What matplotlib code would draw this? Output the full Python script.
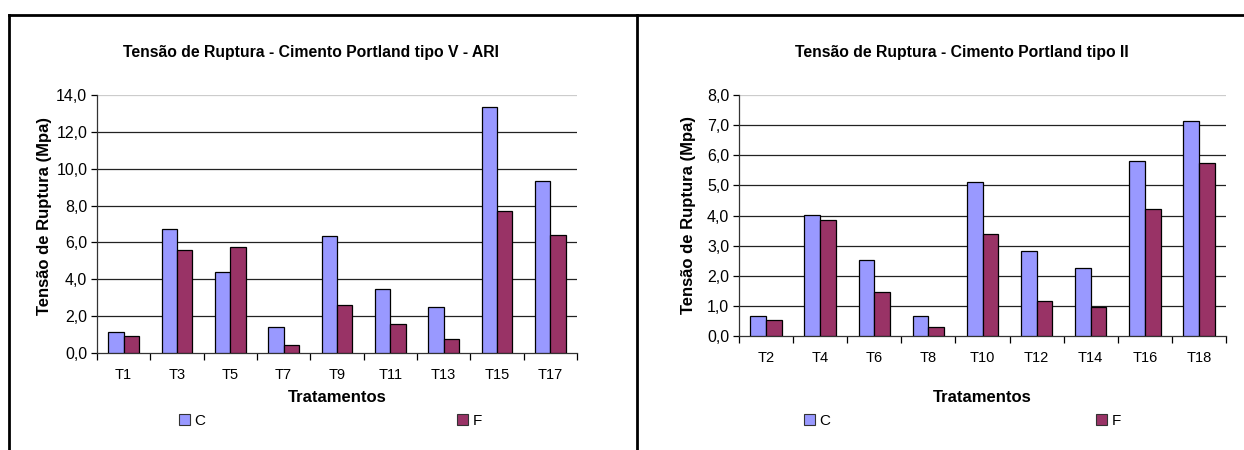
import matplotlib
matplotlib.use('Agg')
import matplotlib.pyplot as plt
from matplotlib.lines import Line2D
from matplotlib.patches import Patch
import numpy as np

plt.rcParams['font.family'] = ['Liberation Sans', 'DejaVu Sans']

# dados - tipo V ARI (tratamentos ímpares)
trat_v = ['T1', 'T3', 'T5', 'T7', 'T9', 'T11', 'T13', 'T15', 'T17']
c_v = [1.14, 6.75, 4.41, 1.40, 6.33, 3.48, 2.47, 13.33, 9.36]
f_v = [0.92, 5.60, 5.73, 0.42, 2.63, 1.60, 0.78, 7.69, 6.38]

# dados - tipo II (tratamentos pares)
trat_ii = ['T2', 'T4', 'T6', 'T8', 'T10', 'T12', 'T14', 'T16', 'T18']
c_ii = [0.68, 4.02, 2.52, 0.65, 5.11, 2.81, 2.25, 5.80, 7.15]
f_ii = [0.53, 3.86, 1.46, 0.30, 3.38, 1.15, 0.95, 4.22, 5.74]

COR_C = '#9999FF'
COR_F = '#993366'

W, H = 1244, 450
fig = plt.figure(figsize=(W / 100, H / 100), dpi=100)


def px_axes(x0, y0, x1, y1):
    return fig.add_axes([x0 / W, 1 - y1 / H, (x1 - x0) / W, (y1 - y0) / H])


def grafico(ax, trat, c, f, ymax, passo):
    x = np.arange(len(trat))
    larg = 0.29
    ax.bar(x - larg / 2, c, larg, color=COR_C, edgecolor='black', linewidth=0.9, zorder=3)
    ax.bar(x + larg / 2, f, larg, color=COR_F, edgecolor='black', linewidth=0.9, zorder=3)
    ax.set_xlim(-0.5, len(trat) - 0.5)
    ax.set_ylim(0, ymax)
    yt = np.arange(0, ymax + passo / 2, passo)
    ax.set_yticks(yt)
    ax.set_yticklabels([('%.1f' % v).replace('.', ',') for v in yt], fontsize=11.5)
    for v in yt[1:]:
        cor = '#cccccc' if v == yt[-1] else '#222222'
        ax.axhline(v, color=cor, linewidth=0.9, zorder=1)
    # marcas entre grupos, rótulos no centro
    ax.set_xticks(np.arange(-0.5, len(trat)), minor=False)
    ax.set_xticklabels([])
    ax.set_xticks(x, minor=True)
    ax.set_xticklabels(trat, minor=True, fontsize=10.5)
    ax.tick_params(axis='x', which='major', direction='out', length=5, width=0.9)
    ax.tick_params(axis='x', which='minor', length=0, pad=11)
    ax.tick_params(axis='y', direction='out', length=4, width=0.9, pad=3)
    for s in ['top', 'right']:
        ax.spines[s].set_visible(False)
    ax.spines['left'].set_color('#333333')
    ax.spines['bottom'].set_color('#333333')
    ax.spines['left'].set_linewidth(0.9)
    ax.spines['bottom'].set_linewidth(0.9)


def legenda(xc, xf, y):
    for xpos, cor, nome in [(xc, COR_C, 'C'), (xf, COR_F, 'F')]:
        h = Patch(facecolor=cor, edgecolor='#333333', linewidth=0.8)
        fig.legend([h], [nome], loc='center left', bbox_to_anchor=(xpos / W, 1 - y / H),
                   frameon=False, fontsize=11, borderpad=0, borderaxespad=0,
                   handlelength=0.7, handleheight=0.7, handletextpad=0.3)


ax1 = px_axes(97, 95, 577, 353)
grafico(ax1, trat_v, c_v, f_v, 14, 2)
ax2 = px_axes(739, 95, 1226, 336)
grafico(ax2, trat_ii, c_ii, f_ii, 8, 1)

# títulos e eixos
fig.text(311 / W, 1 - 53 / H, 'Tensão de Ruptura - Cimento Portland tipo V - ARI',
         ha='center', va='center', fontsize=11.3, fontweight='bold')
fig.text(962 / W, 1 - 53 / H, 'Tensão de Ruptura - Cimento Portland tipo II',
         ha='center', va='center', fontsize=11.3, fontweight='bold')
fig.text(45 / W, 1 - 216 / H, 'Tensão de Ruptura (Mpa)', rotation=90,
         ha='center', va='center', fontsize=12, fontweight='bold')
fig.text(688 / W, 1 - 215 / H, 'Tensão de Ruptura (Mpa)', rotation=90,
         ha='center', va='center', fontsize=12, fontweight='bold')
fig.text(337 / W, 1 - 398 / H, 'Tratamentos', ha='center', va='center',
         fontsize=12, fontweight='bold')
fig.text(982 / W, 1 - 398 / H, 'Tratamentos', ha='center', va='center',
         fontsize=12, fontweight='bold')

legenda(179, 457, 421)
legenda(804, 1096, 421)

# moldura dos quadros
ty = 1 - 15 / H
fig.add_artist(Line2D([9 / W, 1], [ty, ty], color='black', linewidth=2))
fig.add_artist(Line2D([9 / W, 9 / W], [0, ty], color='black', linewidth=2))
fig.add_artist(Line2D([637 / W, 637 / W], [0, ty], color='black', linewidth=2))

fig.savefig('out.png', dpi=100)
